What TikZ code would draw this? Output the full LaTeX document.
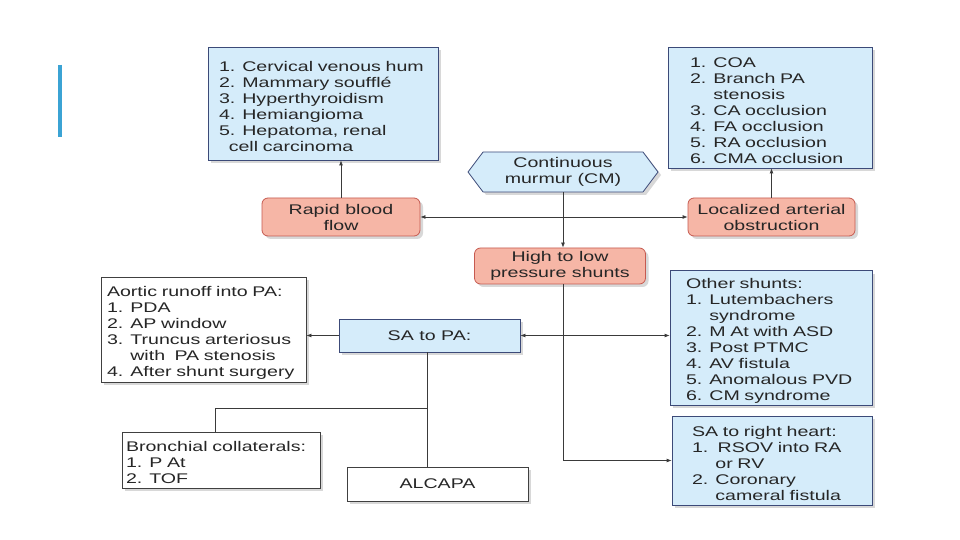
\documentclass[tikz,border=0pt]{standalone}
\usepackage{fontspec}
\setmainfont{Liberation Sans}[FakeStretch=1.4]
\usetikzlibrary{arrows.meta,shadows,shapes.symbols}
\definecolor{boxblue}{HTML}{D5ECFA}
\definecolor{lineblue}{HTML}{3C4A78}
\definecolor{boxred}{HTML}{F6B6A6}
\definecolor{linered}{HTML}{C65A50}
\definecolor{barblue}{HTML}{3BA3D4}
\definecolor{arrowgray}{HTML}{3A3A3A}

\begin{document}
\begin{tikzpicture}[x=1bp, y=-1bp,
	every node/.style={font=\fontsize{14bp}{16bp}\selectfont, text=black!85, inner ysep=2bp},
	shade/.style={drop shadow={shadow xshift=3bp, shadow yshift=-3bp, fill=black!30}},
	bluebox/.style={draw=lineblue, fill=boxblue, shade, line width=0.8bp},
	redbox/.style={draw=linered, fill=boxred, shade, rounded corners=6bp, line width=0.8bp, align=center},
	whitebox/.style={draw=black!75, fill=white, shade, line width=0.8bp},
	listtext/.style={align=left, execute at begin node={\rule{0pt}{16bp}}},
	boxdim/.style 2 args={minimum width=#1bp, minimum height=#2bp},
	link/.style={draw=arrowgray, line width=0.8bp},
	arr/.style={-{Latex[length=5bp,width=4bp]}},
	both/.style={{Latex[length=5bp,width=4bp]}-{Latex[length=5bp,width=4bp]}}]

	\fill[white] (0,0) rectangle (960,540);
	\useasboundingbox (0,0) rectangle (960,540);
	\draw[barblue, line width=4bp] (60,65) -- (60,137);

	% upper row
	\node (humbox) [bluebox, boxdim={230}{113}, inner xsep=11bp, text width=208bp, listtext] at (323,103.5)
		{1. Cervical venous hum\\ 2. Mammary soufflé\\ 3. Hyperthyroidism\\ 4. Hemiangioma\\ 5. Hepatoma, renal\\ \hspace*{0.7em}cell carcinoma};
	\node (obstbox) [bluebox, boxdim={204}{121}, inner xsep=22bp, text width=160bp, listtext] at (770,107.5)
		{1. COA\\ 2. Branch PA\\ \phantom{2. }stenosis\\ 3. CA occlusion\\ 4. FA occlusion\\ 5. RA occlusion\\ 6. CMA occlusion};
	\node (cm) [draw=lineblue, fill=boxblue, shade, line width=0.8bp, signal, signal to=west and east, signal pointer angle=106, boxdim={190}{40}, align=center, inner sep=1bp] at (563,172)
		{Continuous\\ murmur (CM)};
	\node (rapid) [redbox, boxdim={158}{38}] at (341,217) {Rapid blood\\ flow};
	\node (local) [redbox, boxdim={167}{38}] at (771.5,217) {Localized arterial\\ obstruction};
	\node (shunts) [redbox, boxdim={171}{36}] at (560,266) {High to low\\ pressure shunts};

	% lower part
	\node (aortic) [whitebox, boxdim={205}{105}, inner xsep=6bp, text width=193bp, listtext] at (203.5,329.5)
		{Aortic runoff into PA:\\ 1. PDA\\ 2. AP window\\ 3. Truncus arteriosus\\ \phantom{3. }with\ \ PA stenosis\\ 4. After shunt surgery};
	\node (sapa) [bluebox, boxdim={181}{33}] at (429.5,335.5) {SA to PA:};
	\node (other) [bluebox, boxdim={202}{132}, inner xsep=16bp, text width=170bp, listtext] at (771,338)
		{Other shunts:\\ 1. Lutembachers\\ \phantom{1. }syndrome\\ 2. M At with ASD\\ 3. Post PTMC\\ 4. AV fistula\\ 5. Anomalous PVD\\ 6. CM syndrome};
	\node (rightheart) [bluebox, boxdim={200}{89}, inner xsep=20bp, text width=160bp, listtext] at (772,460.5)
		{SA to right heart:\\ 1.\ \ RSOV into RA\\ \phantom{1. }or RV\\ 2. Coronary\\ \phantom{2. }cameral fistula};
	\node (bronch) [whitebox, boxdim={198}{56}, inner xsep=4bp, text width=190bp, listtext] at (221,460)
		{Bronchial collaterals:\\ 1. P At\\ 2. TOF};
	\node (alcapa) [whitebox, boxdim={181}{34}] at (437.5,484) {ALCAPA};

	% connectors
	\draw[link, arr] (rapid.north) -- (rapid.north |- humbox.south);
	\draw[link, arr] (local.north) -- (local.north |- obstbox.south);
	\draw[link, both] (rapid.east) -- (local.west);
	\draw[link, arr] (cm.south) -- (cm.south |- shunts.north);
	\draw[link, arr] (cm.south |- shunts.south) |- (rightheart.west);
	\draw[link, arr] (sapa.west) -- (sapa.west -| aortic.east);
	\draw[link, both] (sapa.east) -- (sapa.east -| other.west);
	\coordinate (split) at (427,408);
	\coordinate (bsplit) at (215,408);
	\draw[link] (sapa.south -| split) -- (alcapa.north -| split);
	\draw[link] (split) -- (bsplit) -- (bsplit |- bronch.north);

\end{tikzpicture}
\end{document}
